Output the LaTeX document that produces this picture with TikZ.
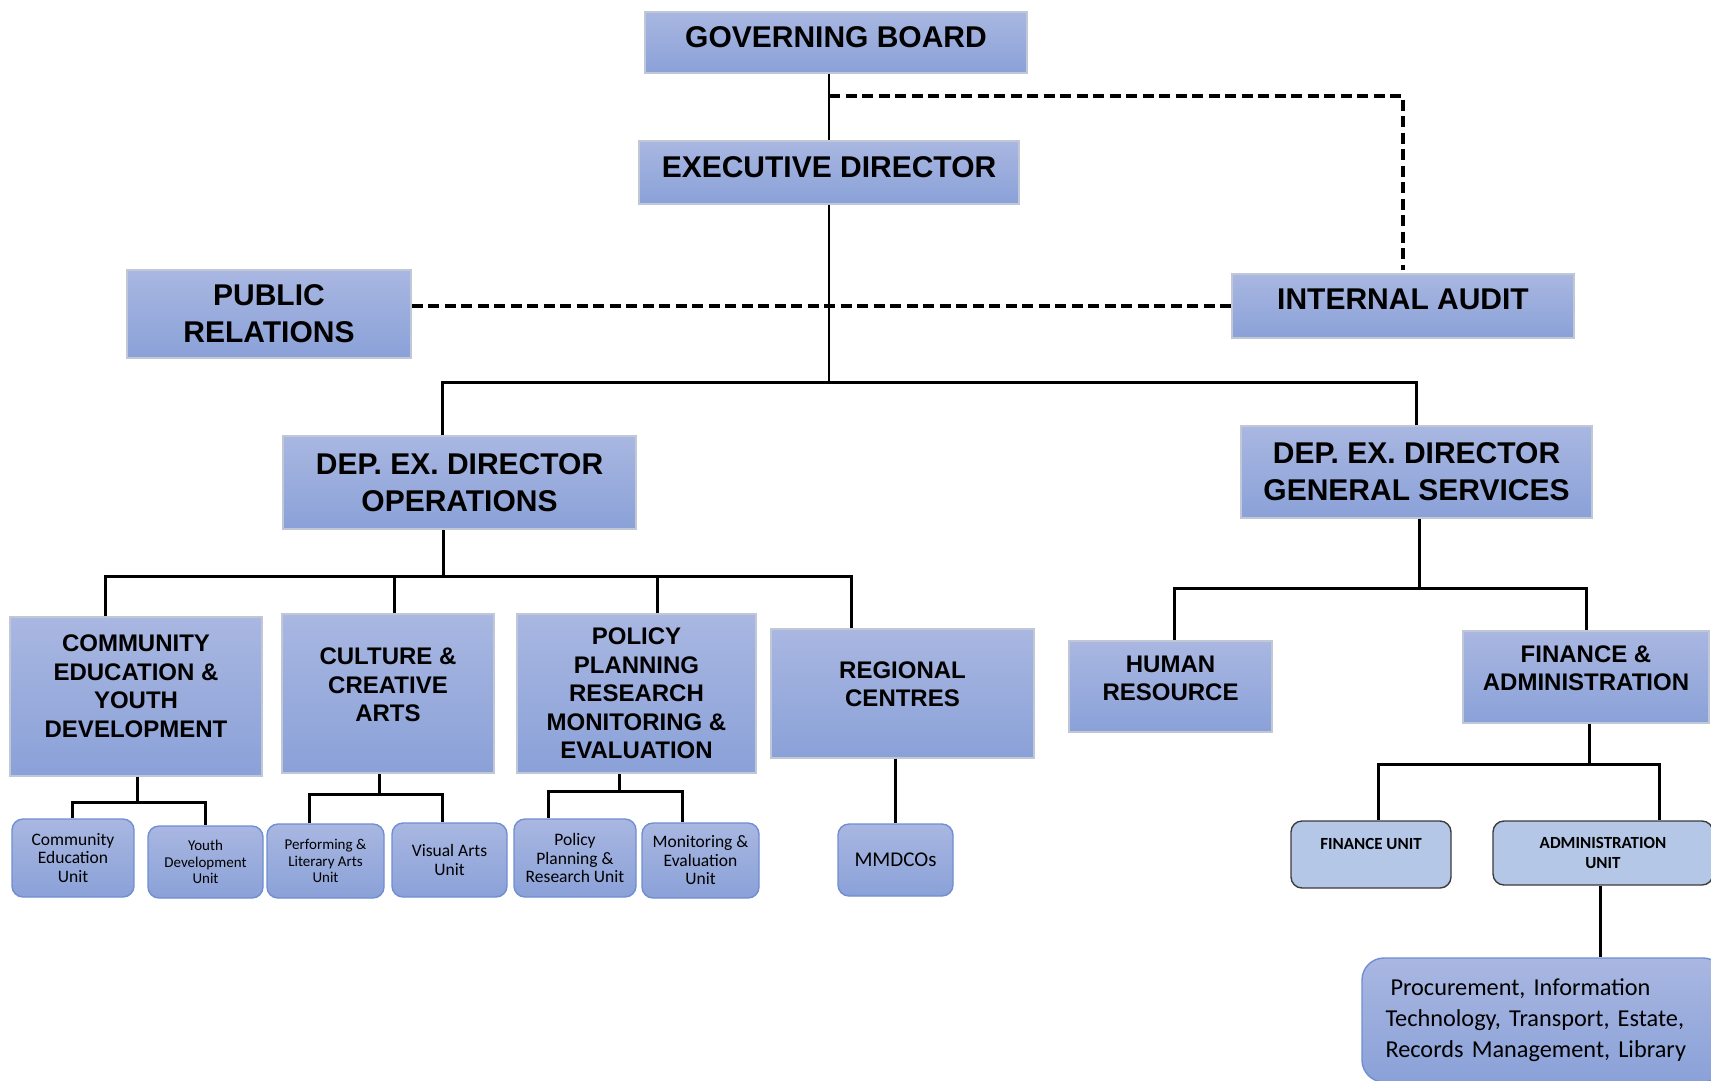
\documentclass[tikz,border=0pt]{standalone}
\usepackage{fontspec}
\setmainfont{Liberation Sans}
\newfontfamily\calfont{Carlito}
\definecolor{boxtop}{RGB}{169,183,225}
\definecolor{boxbot}{RGB}{138,161,216}
\definecolor{boxline}{RGB}{192,199,214}
\definecolor{unitline}{RGB}{112,142,210}
\definecolor{lightfill}{RGB}{180,199,231}
\definecolor{lightline}{RGB}{60,60,60}
\begin{document}
\begin{tikzpicture}[x=1pt,y=-1pt,
  conn/.style={line width=3pt},
  dconn/.style={line width=3.4pt, dash pattern=on 11pt off 5.5pt},
  bigbox/.style={draw=boxline, line width=1.3pt, top color=boxtop, bottom color=boxbot, align=center, inner sep=0pt, font=\bfseries\fontsize{30}{37}\selectfont},
  midbox/.style={bigbox, font=\bfseries\fontsize{24}{28.5}\selectfont},
  unitbox/.style={draw=unitline, line width=1.4pt, rounded corners=11pt, top color=boxtop, bottom color=boxbot, align=center, inner sep=0pt, font=\calfont\fontsize{17.5}{18.5}\selectfont},
  smallunit/.style={unitbox, font=\calfont\fontsize{15}{16.4}\selectfont},
  lightbox/.style={draw=lightline, line width=1.4pt, rounded corners=11pt, fill=lightfill, align=center, inner sep=0pt, font=\calfont\bfseries\fontsize{17}{20.5}\selectfont}
]
\fill[white] (0,0) rectangle (1711,1080);
\useasboundingbox (0,0) rectangle (1711,1080);

% top level
\node[bigbox, minimum width=382pt, minimum height=61pt, text depth=10pt] (gb) at (836,42.5) {GOVERNING BOARD};
\node[bigbox, minimum width=380pt, minimum height=63pt, text depth=10pt] (ed) at (829,172.5) {EXECUTIVE DIRECTOR};
\node[bigbox, minimum width=284pt, minimum height=88pt] (pr) at (269,314) {PUBLIC\\RELATIONS};
\node[bigbox, minimum width=342pt, minimum height=64pt, text depth=14pt] (ia) at (1403,306) {INTERNAL AUDIT};
\node[bigbox, minimum width=353pt, minimum height=93pt] (ops) at (459.5,482.5) {DEP. EX. DIRECTOR\\OPERATIONS};
\node[bigbox, minimum width=351pt, minimum height=92pt] (gs) at (1416.5,472) {DEP. EX. DIRECTOR\\GENERAL SERVICES};

% second level
\node[midbox, minimum width=252pt, minimum height=159pt, text depth=21pt] (ceyd) at (136,696.5) {COMMUNITY\\EDUCATION \&\\YOUTH\\DEVELOPMENT};
\node[midbox, minimum width=212pt, minimum height=159pt, text depth=17pt] (cca) at (388,693.5) {CULTURE \&\\CREATIVE\\ARTS};
\node[midbox, minimum width=239pt, minimum height=159pt] (ppr) at (636.5,693.5) {POLICY\\PLANNING\\RESEARCH\\MONITORING \&\\EVALUATION};
\node[midbox, minimum width=263pt, minimum height=129pt, text depth=19pt] (rc) at (902.5,693.5) {REGIONAL\\CENTRES};
\node[midbox, minimum width=203pt, minimum height=91pt, text depth=17pt] (hr) at (1170.5,686.5) {HUMAN\\RESOURCE};
\node[midbox, minimum width=246pt, minimum height=92pt, text depth=18pt] (fa) at (1586,677) {FINANCE \&\\ADMINISTRATION};

% units
\node[unitbox, minimum width=122pt, minimum height=78pt] (ceu) at (73,858) {Community\\Education\\Unit};
\node[smallunit, minimum width=115pt, minimum height=72pt] (ydu) at (205.5,862) {Youth\\Development\\Unit};
\node[smallunit, minimum width=117pt, minimum height=74pt] (pla) at (325.5,861) {Performing \&\\Literary Arts\\Unit};
\node[unitbox, minimum width=115pt, minimum height=74pt] (vau) at (449.5,860) {Visual Arts\\Unit};
\node[unitbox, minimum width=122pt, minimum height=78pt] (ppru) at (575,858) {Policy\\Planning \&\\Research Unit};
\node[unitbox, minimum width=117pt, minimum height=75pt] (meu) at (700.5,860.5) {Monitoring \&\\Evaluation\\Unit};
\node[unitbox, minimum width=115pt, minimum height=72pt, font=\calfont\fontsize{21}{24}\selectfont] (mmd) at (895.5,860) {MMDCOs};
\node[lightbox, minimum width=160pt, minimum height=67pt, text depth=22pt] (fu) at (1371,854.5) {FINANCE UNIT};
\node[lightbox, minimum width=220pt, minimum height=64pt] (au) at (1603,853) {ADMINISTRATION\\UNIT};
\node[unitbox, rounded corners=22pt, minimum width=363pt, minimum height=124pt, text width=316pt, align=left, font=\calfont\fontsize{24.3}{31}\selectfont] (proc) at (1543.5,1020) {\hspace*{5pt}Procurement, Information\\Technology, Transport, Estate,\\Records Management, Library};

% connectors
\coordinate (tb) at (829,96);
\coordinate (b1) at (829,382);
\draw[conn, line width=2.6pt] (gb.south -| ed.north) -- (ed.north);
\draw[dconn] (tb) -| ([yshift=3pt]ia.north);
\draw[dconn] (pr.east |- ia.west) -- (ia.west);
\draw[conn, line width=2.6pt] (ed.south) -- (b1);
\draw[conn] ([xshift=-17.5pt]ops.north) |- (b1) -| (gs.north);

\coordinate (b2) at (443,576);
\draw[conn] ([xshift=-16.5pt]ops.south) -- (b2);
\draw[conn] ([xshift=-31pt]ceyd.north) |- (b2) -| ([xshift=-51.5pt]rc.north);
\draw[conn] ([xshift=6pt]cca.north) |- (b2);
\draw[conn] ([xshift=20.5pt]ppr.north) |- (b2);

\coordinate (b3) at (1419,588);
\draw[conn] ([xshift=2.5pt]gs.south) -- (b3);
\draw[conn] ([xshift=3.5pt]hr.north) |- (b3) -| (fa.north);

\coordinate (b4) at (1589,764);
\draw[conn] ([xshift=3pt]fa.south) -- (b4);
\draw[conn] ([xshift=7pt]fu.north) |- (b4) -| ([xshift=56pt]au.north);

\coordinate (aus) at ([xshift=-3pt]au.south);
\draw[conn] (aus) -- (aus |- proc.north);

\coordinate (b5) at (137,802);
\draw[conn] ([xshift=1pt]ceyd.south) -- (b5);
\draw[conn] ([xshift=-1pt]ceu.north) |- (b5) -| (ydu.north);

\coordinate (b6) at (379,794);
\draw[conn] ([xshift=-9pt]cca.south) -- (b6);
\draw[conn] ([xshift=-16.5pt]pla.north) |- (b6) -| ([xshift=-7.5pt]vau.north);

\coordinate (b7) at (619,791);
\draw[conn] ([xshift=-17.5pt]ppr.south) -- (b7);
\draw[conn] ([xshift=-27pt]ppru.north) |- (b7) -| ([xshift=-18.5pt]meu.north);

\draw[conn] (mmd.north |- rc.south) -- (mmd.north);
\end{tikzpicture}
\end{document}
